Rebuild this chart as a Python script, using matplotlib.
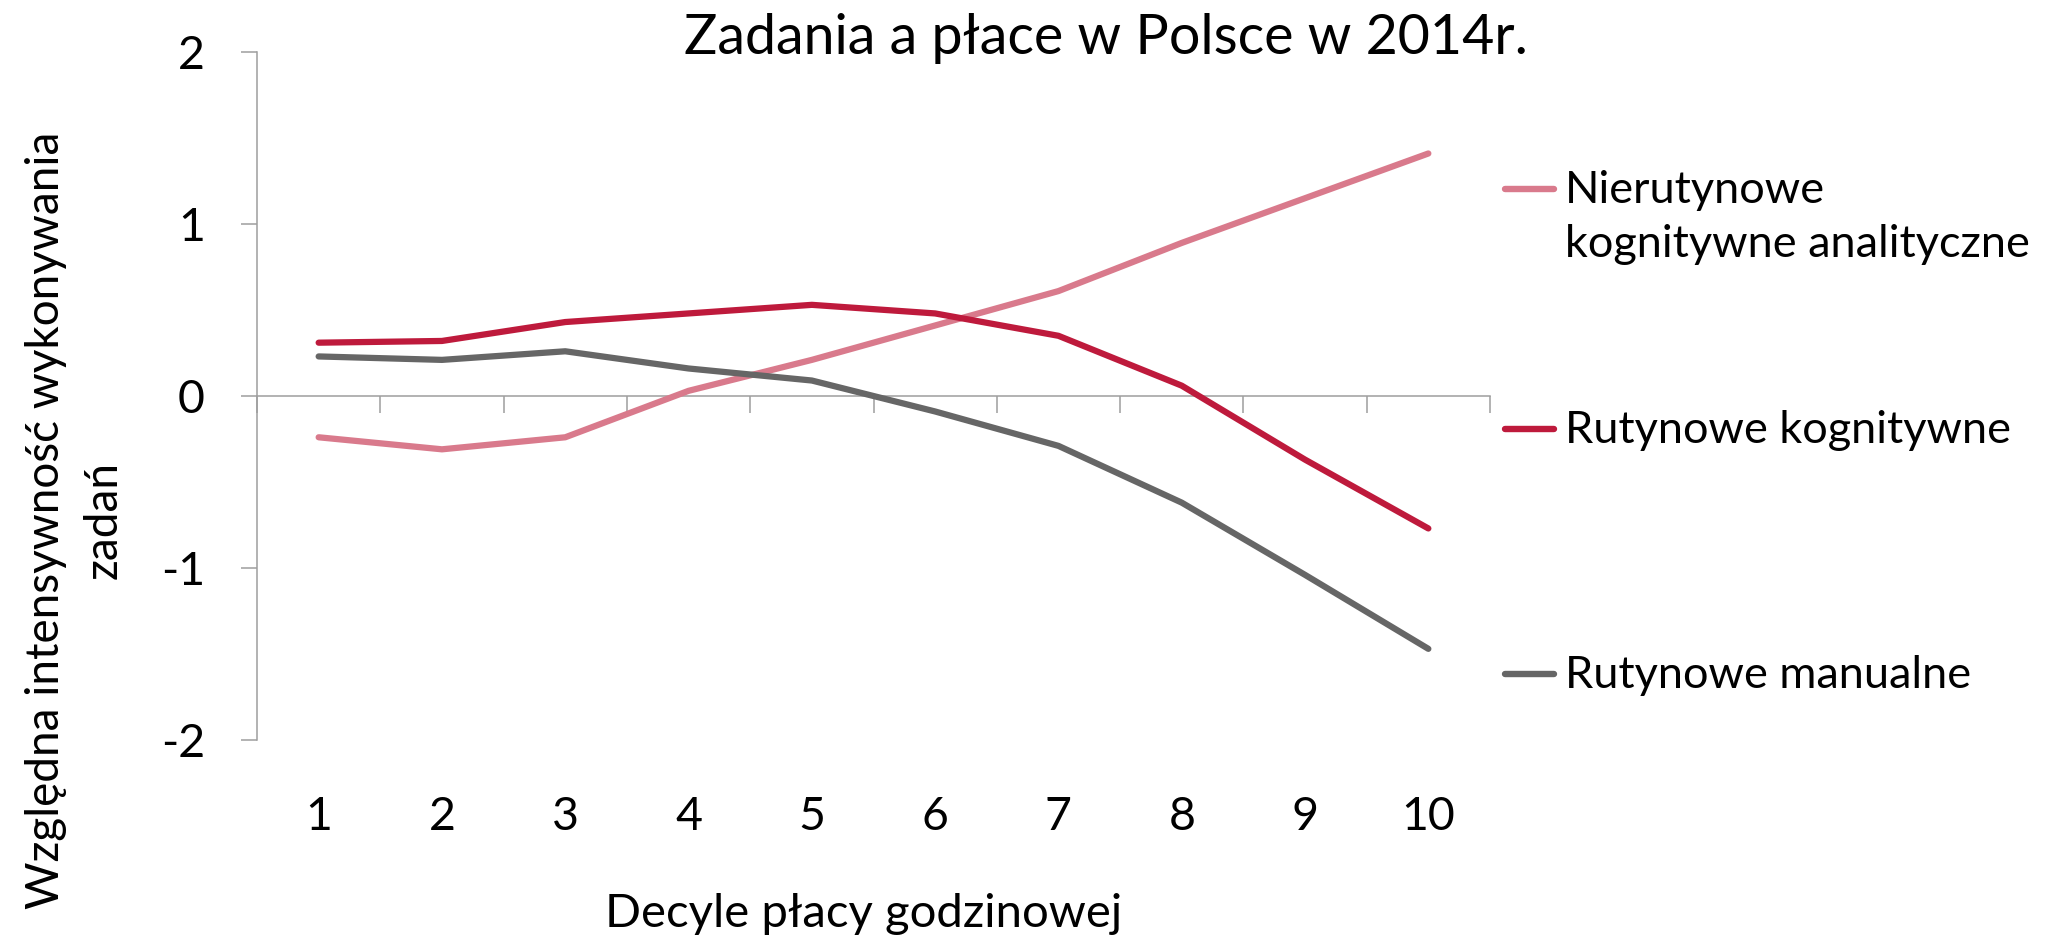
import matplotlib
matplotlib.use("Agg")
import matplotlib.pyplot as plt
from matplotlib.lines import Line2D
import numpy as np

# ---- data ----
deciles = [1, 2, 3, 4, 5, 6, 7, 8, 9, 10]
tick_labels = ["1", "2", "3", "4", "5", "6", "7", "8", "9", "10"]
series_names = ["Nierutynowe\nkognitywne analityczne", "Rutynowe kognitywne", "Rutynowe manualne"]
nierutynowe_analityczne = [-0.24, -0.31, -0.24, 0.03, 0.21, 0.41, 0.61, 0.89, 1.15, 1.41]
rutynowe_kognitywne = [0.31, 0.32, 0.43, 0.48, 0.53, 0.48, 0.35, 0.06, -0.37, -0.77]
rutynowe_manualne = [0.23, 0.21, 0.26, 0.16, 0.09, -0.09, -0.29, -0.62, -1.04, -1.47]
series_values = [nierutynowe_analityczne, rutynowe_kognitywne, rutynowe_manualne]
series_colors = ["#D97A8C", "#BE1A3C", "#666666"]
y_ticks = [-2, -1, 0, 1, 2]
y_tick_labels = ["-2", "-1", "0", "1", "2"]
title = "Zadania a płace w Polsce w 2014r."
x_label = "Decyle płacy godzinowej"
y_label = "Względna intensywność wykonywania\nzadań"

W, H = 2072, 941
FONT = ["Lato", "DejaVu Sans"]
plt.rcParams["font.family"] = FONT

fig = plt.figure(figsize=(W / 100, H / 100), dpi=100)
fig.patch.set_facecolor("white")

left, right, top, bottom = 257, 1490, 52, 740
ax = fig.add_axes([left / W, 1 - bottom / H, (right - left) / W, (bottom - top) / H])

GRAY = "#9E9E9E"
for vals, col in zip(series_values, series_colors):
    ax.plot(deciles, vals, color=col, lw=4.5, solid_capstyle="round",
            solid_joinstyle="round", zorder=3)

ax.set_xlim(0.5, 10.5)
ax.set_ylim(-2, 2)

# y axis
ax.set_yticks(y_ticks)
ax.set_yticklabels(y_tick_labels, fontsize=33.5)
ax.tick_params(axis="y", direction="out", length=11.5, width=1.1, color=GRAY, pad=26)
ax.spines["left"].set_color(GRAY)
ax.spines["left"].set_linewidth(1.1)
for s in ["top", "right", "bottom"]:
    ax.spines[s].set_visible(False)

# x tick labels at bottom of plot area
ax.set_xticks(deciles)
ax.set_xticklabels(tick_labels, fontsize=33.5)
ax.tick_params(axis="x", length=0, pad=40)

# horizontal axis line at y=0 with boundary ticks pointing down
sec = ax.secondary_xaxis(0.5)
sec.set_xticks(np.arange(0.5, 11, 1.0))
sec.set_xticklabels([])
sec.tick_params(axis="x", direction="in", length=12, width=1.1, color=GRAY)
for s in sec.spines.values():
    s.set_color(GRAY)
    s.set_linewidth(1.1)

# title and axis labels
fig.text(1106 / W, 1 - 54 / H, title, ha="center", va="baseline", fontsize=40)
fig.text(864 / W, 1 - 927 / H, x_label, ha="center", va="baseline", fontsize=34)
fig.text(75 / W, 1 - 520 / H, y_label, rotation=90, ha="center", va="center",
         fontsize=33, multialignment="center", linespacing=1.45)

# legend (manual, right side)
baselines = [203, 443, 688]
for name, col, base in zip(series_names, series_colors, baselines):
    hy = 1 - (base - 14) / H
    fig.add_artist(Line2D([1505 / W, 1554 / W], [hy, hy], color=col, lw=4.6,
                          solid_capstyle="round", transform=fig.transFigure))
    for i, line in enumerate(name.split("\n")):
        fig.text(1565 / W, 1 - (base + 54 * i) / H, line, ha="left", va="baseline",
                 fontsize=32.5)

fig.savefig("out.png", dpi=100, facecolor="white")
